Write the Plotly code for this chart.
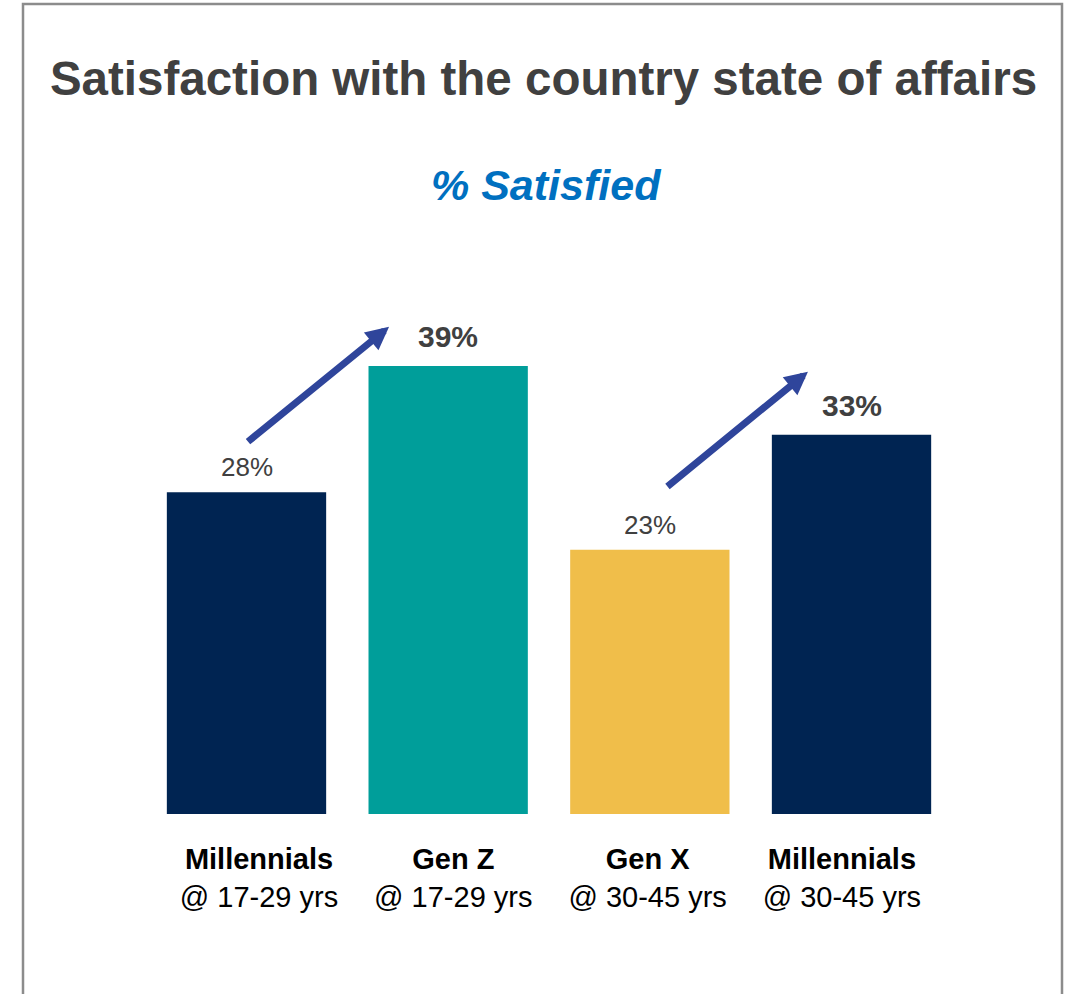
import plotly.graph_objects as go

# Survey results: share satisfied with the country's state of affairs
groups = ["Millennials", "Gen Z", "Gen X", "Millennials"]
age_bands = ["@ 17-29 yrs", "@ 17-29 yrs", "@ 30-45 yrs", "@ 30-45 yrs"]
satisfied_pct = [28, 39, 23, 33]
highlight = [False, True, False, True]

# Comparison arrows: (from bar, to bar)
comparisons = [(0, 1), (2, 3)]

bar_colors = ["#002452", "#009E9A", "#F0BE4A", "#002452"]
arrow_color = "#2F459B"
text_dark = "#404040"
FONT = "Liberation Sans, Arial, sans-serif"

W, H = 1076, 994
BASE_PX = 814          # pixel row of the bars' baseline
PX_PER_PCT = 11.49     # vertical scale
x_idx = list(range(len(groups)))

# bar axis: first bar centre and spacing (px); label axis uses its own spacing
bar_c0, bar_step = 246.5, 201.67
lab_c0, lab_step = 259.0, 194.3

fig = go.Figure()
fig.add_trace(
    go.Bar(
        x=x_idx,
        y=satisfied_pct,
        width=0.79,
        marker=dict(color=bar_colors, line=dict(width=0)),
        hoverinfo="skip",
    )
)
# invisible carrier so the category-label axis is drawn
fig.add_trace(
    go.Scatter(x=x_idx, y=[0] * len(x_idx), xaxis="x2", mode="markers",
               marker=dict(opacity=0), hoverinfo="skip")
)

# value labels above each bar
for i, v in enumerate(satisfied_pct):
    if highlight[i]:
        txt, size, yshift = f"<b>{v}%</b>", 30, 11
    else:
        txt, size, yshift = f"{v}%", 26, 8
    fig.add_annotation(
        x=i, y=v, xref="x", yref="y", text=txt, showarrow=False,
        yanchor="bottom", yshift=yshift,
        font=dict(size=size, color=text_dark, family=FONT),
    )

# arrows from one cohort's bar to the next, offsets in data units
arrow_geom = [
    dict(tail_dx=0.0, tail_dy=4.3, head_dx=-0.293, head_dy=3.4),
    dict(tail_dx=0.08, tail_dy=5.4, head_dx=-0.216, head_dy=5.5),
]
for (a, b), g in zip(comparisons, arrow_geom):
    fig.add_annotation(
        x=b + g["head_dx"], y=satisfied_pct[b] + g["head_dy"],
        ax=a + g["tail_dx"], ay=satisfied_pct[a] + g["tail_dy"],
        xref="x", yref="y", axref="x", ayref="y",
        text="", showarrow=True, arrowhead=2, arrowsize=0.66,
        arrowwidth=7, arrowcolor=arrow_color, standoff=0, startstandoff=0,
    )

# subtitle
fig.add_annotation(
    x=546 / W, y=(BASE_PX - 185) / BASE_PX, xref="paper", yref="paper",
    text="<b><i>% Satisfied</i></b>", showarrow=False, yanchor="middle",
    font=dict(size=43, color="#0070C0", family=FONT),
)

# outer frame
fig.add_shape(
    type="rect", xref="paper", yref="paper",
    x0=23 / W, x1=1062 / W, y0=(BASE_PX - 1010) / BASE_PX, y1=(BASE_PX - 4) / BASE_PX,
    line=dict(color="#8C8C8C", width=2.5), fillcolor="rgba(0,0,0,0)", layer="above",
)

tick_text = [f"<b>{g}</b><br>{a}" for g, a in zip(groups, age_bands)]

fig.update_layout(
    width=W, height=H, autosize=False,
    margin=dict(l=0, r=0, t=0, b=H - BASE_PX, pad=0),
    paper_bgcolor="white", plot_bgcolor="white",
    showlegend=False,
    title=dict(
        text="<b>Satisfaction with the country state of affairs</b>",
        x=543.5 / W, xanchor="center", y=1 - 78 / H, yanchor="middle", yref="container",
        font=dict(size=47.5, color=text_dark, family=FONT),
    ),
    xaxis=dict(
        range=[-bar_c0 / bar_step, (W - bar_c0) / bar_step],
        showticklabels=False, ticks="",
        showgrid=False, zeroline=False, showline=False, fixedrange=True,
    ),
    xaxis2=dict(
        overlaying="x", anchor="y", side="bottom",
        range=[-lab_c0 / lab_step, (W - lab_c0) / lab_step],
        tickmode="array", tickvals=x_idx, ticktext=tick_text,
        ticks="outside", ticklen=19, tickcolor="rgba(0,0,0,0)",
        showgrid=False, zeroline=False, showline=False, fixedrange=True,
        tickfont=dict(size=29, color="#000000", family=FONT),
    ),
    yaxis=dict(
        range=[0, BASE_PX / PX_PER_PCT],
        visible=False, showgrid=False, zeroline=False, fixedrange=True,
    ),
)

fig.write_html("out.html")
